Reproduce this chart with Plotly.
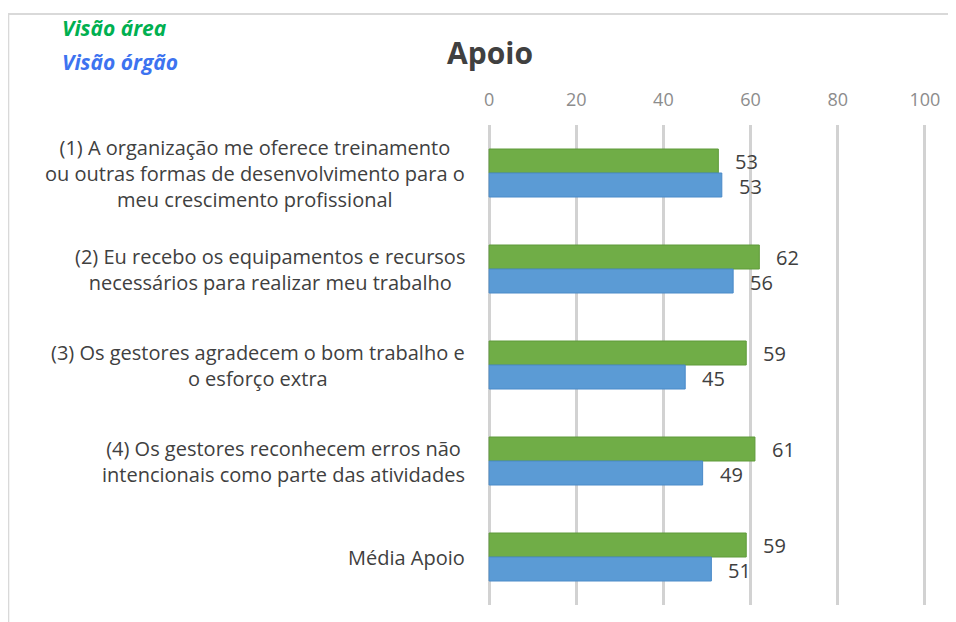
import plotly.graph_objects as go

categories = [
    "(1) A organização me oferece treinamento<br>ou outras formas de desenvolvimento para o<br>meu crescimento profissional",
    "(2) Eu recebo os equipamentos e recursos<br>necessários para realizar meu trabalho",
    "(3) Os gestores agradecem o bom trabalho e<br>o esforço extra",
    "(4) Os gestores reconhecem erros não<br>intencionais como parte das atividades",
    "Média Apoio",
]
visao_area = [52.6, 62, 59, 61, 59]
visao_orgao = [53.4, 56, 45, 49, 51]
series_names = ["Visão área", "Visão órgão"]
tick_vals = [0, 20, 40, 60, 80, 100]

GREEN = "#70ad47"
BLUE = "#5b9bd5"
TXT = "#404040"
FONT = "Open Sans"

# page has an 8px body margin; work in page pixels and convert
OFF = 8
W, H = 956 - OFF, 622 - OFF
X0_PAGE, X100_PAGE = 489, 925
PAD_U = 0.25
ppu = (X100_PAGE - X0_PAGE) / 100
left_page = X0_PAGE - PAD_U * ppu
right_page = X100_PAGE + PAD_U * ppu
top_page, bottom_page = 125, 605
L = left_page - OFF
R = W - (right_page - OFF)
T = top_page - OFF
B = H - (bottom_page - OFF)
pw = right_page - left_page
ph = bottom_page - top_page

def px_x(p):
    return (p - left_page) / pw

def px_y(p):
    return (bottom_page - p) / ph

fig = go.Figure()
keys = [str(i) for i in range(len(categories))]
fig.add_trace(go.Bar(y=keys, x=visao_area, orientation="h", name=series_names[0],
                     marker=dict(color=GREEN, line=dict(color="#5f9a3a", width=1))))
fig.add_trace(go.Bar(y=keys, x=visao_orgao, orientation="h", name=series_names[1],
                     marker=dict(color=BLUE, line=dict(color="#4a8ac8", width=1))))

annotations = []
# category labels
for k, c in zip(keys, categories):
    annotations.append(dict(text=c, xref="paper", x=px_x(467), yref="y", y=k, xanchor="right",
                            yanchor="middle", align="center", showarrow=False,
                            font=dict(family=FONT, size=20, color=TXT)))
# data labels
for k, a, o in zip(keys, visao_area, visao_orgao):
    annotations.append(dict(text=f"{a:.0f}", x=a, y=k, xref="x", yref="y", xanchor="left",
                            yanchor="middle", xshift=15, yshift=12, showarrow=False,
                            font=dict(family=FONT, size=20, color=TXT)))
    annotations.append(dict(text=f"{o:.0f}", x=o, y=k, xref="x", yref="y", xanchor="left",
                            yanchor="middle", xshift=15, yshift=-13, showarrow=False,
                            font=dict(family=FONT, size=20, color=TXT)))
# legend-like text
annotations.append(dict(text=f"<b><i>{series_names[0]}</i></b>", xref="paper", yref="paper",
                        x=px_x(60), y=px_y(28), xanchor="left", yanchor="middle", showarrow=False,
                        font=dict(family=FONT, size=21, color="#00b050")))
annotations.append(dict(text=f"<b><i>{series_names[1]}</i></b>", xref="paper", yref="paper",
                        x=px_x(60), y=px_y(62), xanchor="left", yanchor="middle", showarrow=False,
                        font=dict(family=FONT, size=21, color="#3d73f0")))

fig.update_layout(
    width=W, height=H,
    margin=dict(l=L, r=R, t=T, b=B, pad=0),
    paper_bgcolor="white", plot_bgcolor="white",
    barmode="group", bargap=0.5, bargroupgap=0,
    showlegend=False,
    title=dict(text="<b>Apoio</b>", x=(490 - OFF) / W, xanchor="center",
               y=1 - (53 - OFF) / H, yanchor="middle",
               font=dict(family=FONT, size=30, color=TXT)),
    xaxis=dict(range=[-PAD_U, 100 + PAD_U], side="top", tickvals=tick_vals, showgrid=True,
               gridcolor="#d2d2d2", gridwidth=2.5, zeroline=False, showline=False,
               ticks="outside", ticklen=11, tickcolor="rgba(0,0,0,0)",
               tickfont=dict(family=FONT, size=18, color="#8c8c8c"), fixedrange=True),
    yaxis=dict(autorange="reversed", showticklabels=False, showgrid=False, zeroline=False,
               showline=False, fixedrange=True),
    annotations=annotations,
    shapes=[dict(type="rect", xref="paper", yref="paper", x0=px_x(8), x1=px_x(1100),
                 y0=px_y(14), y1=px_y(700), line=dict(color="#d9d9d9", width=2),
                 fillcolor="rgba(0,0,0,0)", layer="below")],
)

fig.write_html("out.html")
